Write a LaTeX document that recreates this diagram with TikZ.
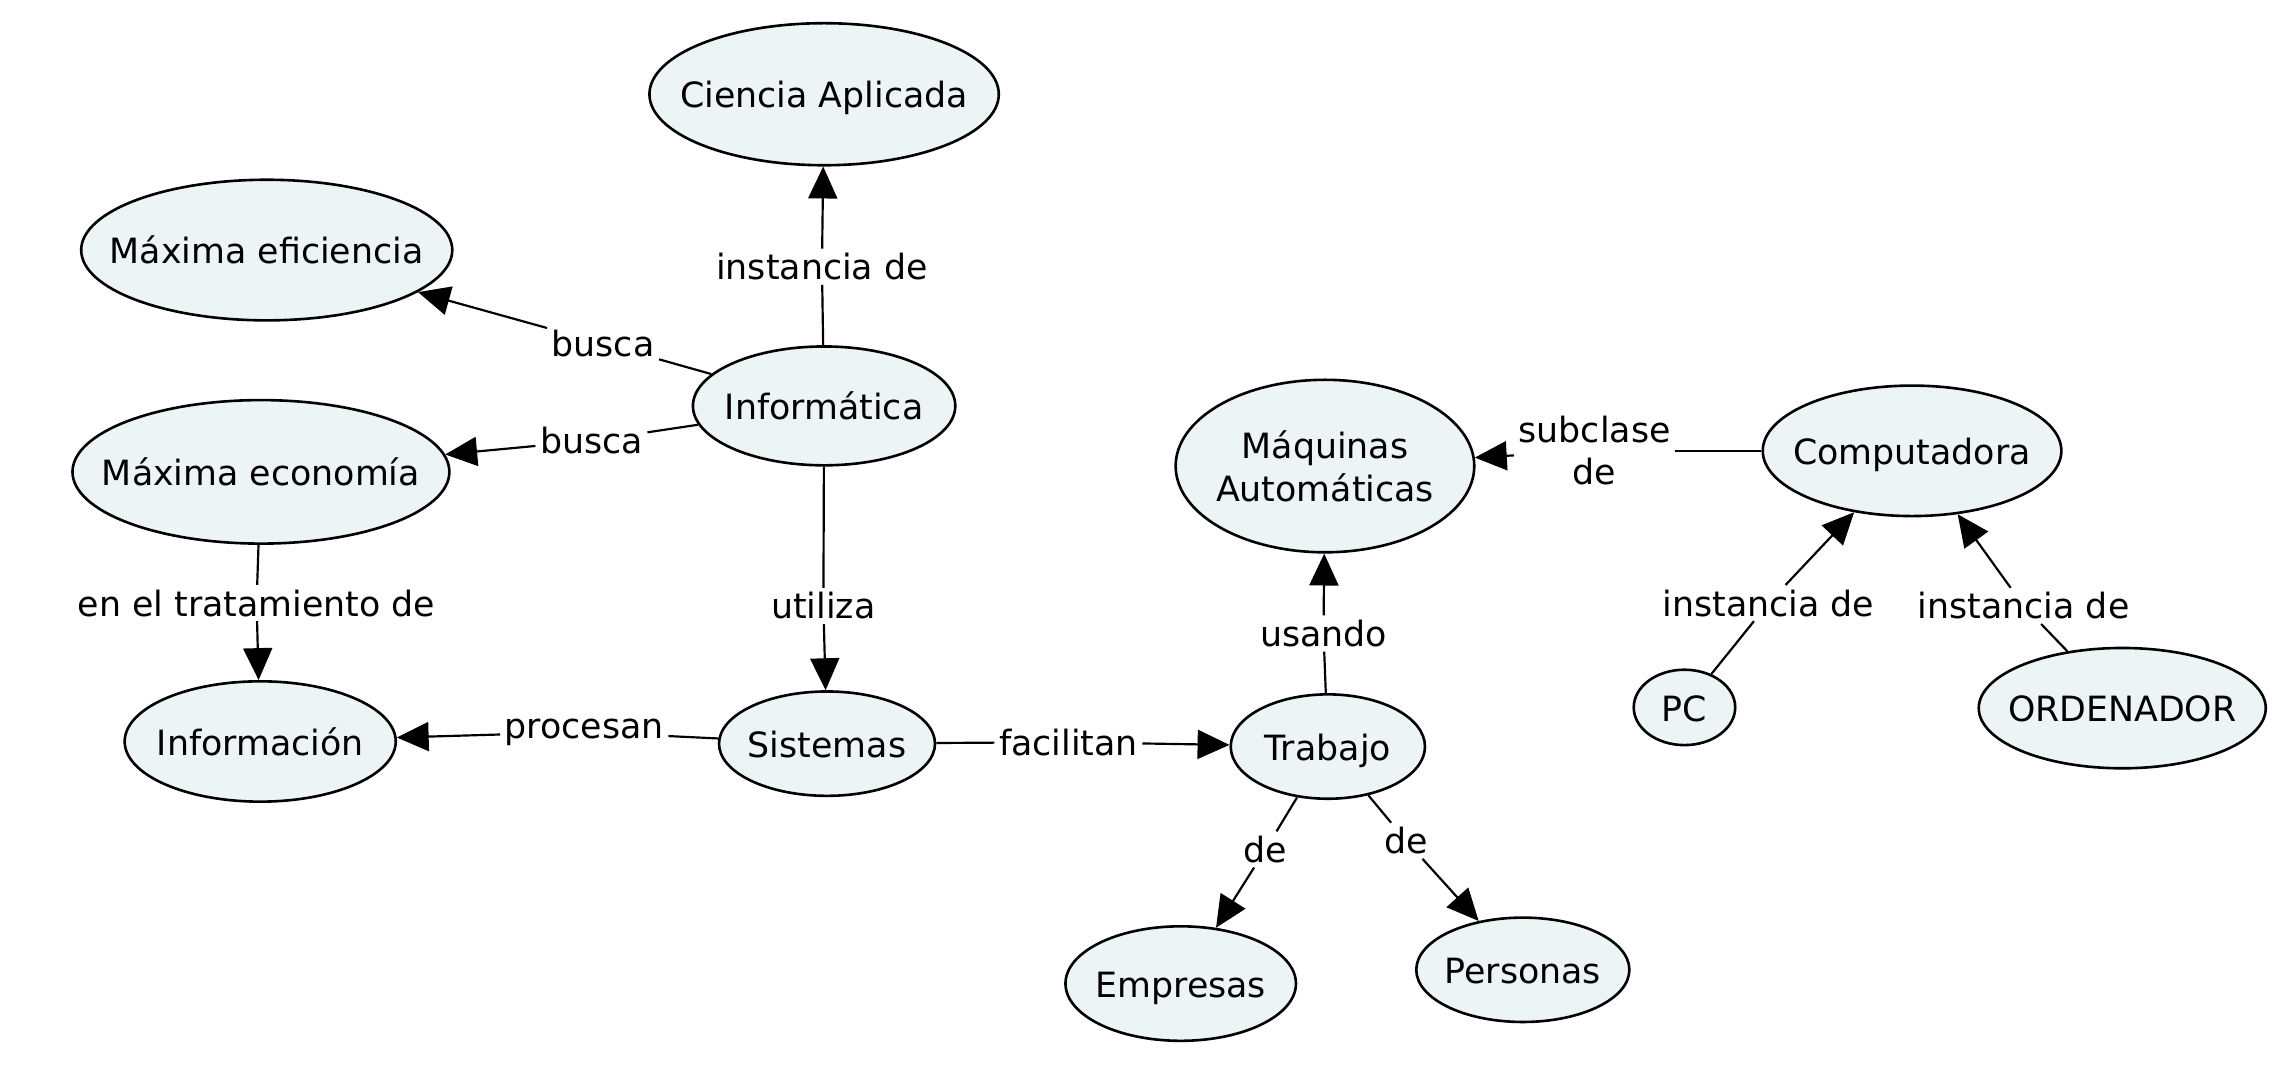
\documentclass[tikz,border=0pt]{standalone}
\usepackage{fontspec}
\setmainfont{DejaVu Sans}
\usetikzlibrary{arrows.meta,shapes.geometric}
\definecolor{cmapfill}{RGB}{236,244,246}
% concept text takes no room, so the ellipse size comes from the minimum sizes
\newcommand{\cmtext}[1]{\makebox[0pt]{\raisebox{-3.5pt}[\height][\depth]{\begin{tabular}{@{}c@{}}#1\end{tabular}}}}

\begin{document}
\begin{tikzpicture}[x=1pt,y=-1pt,
  concept/.style={draw, ellipse, fill=cmapfill, line width=1.8pt, inner sep=0pt,
    font=\fontsize{24}{30}\selectfont},
  linkword/.style={fill=white, inner sep=3pt, font=\fontsize{24}{29}\selectfont, align=center},
  linkline/.style={line width=1.5pt},
  linkarrow/.style={line width=1.5pt, -{Triangle[length=22pt,width=20pt]}}]

  \path[use as bounding box, fill=white] (0,0) rectangle (1568,751);

  %% concepts
  \node[concept, minimum width=241, minimum height=98] (ciencia) at (568.5,65) {\cmtext{Ciencia Aplicada}};
  \node[concept, minimum width=256, minimum height=97] (eficiencia) at (184,172.5) {\cmtext{Máxima eficiencia}};
  \node[concept, minimum width=181, minimum height=82] (informatica) at (568.5,280) {\cmtext{Informática}};
  \node[concept, minimum width=260, minimum height=99] (economia) at (180,325.5) {\cmtext{Máxima economía}};
  \node[concept, minimum width=187, minimum height=83] (informacion) at (179.5,511.5) {\cmtext{Información}};
  \node[concept, minimum width=149, minimum height=72] (sistemas) at (570.5,513) {\cmtext{Sistemas}};
  \node[concept, minimum width=134, minimum height=72] (trabajo) at (916,515) {\cmtext{Trabajo}};
  \node[concept, minimum width=206, minimum height=119] (maquinas) at (914,321.5) {\cmtext{Máquinas\\Automáticas}};
  \node[concept, minimum width=206, minimum height=90] (computadora) at (1319,311) {\cmtext{Computadora}};
  \node[concept, minimum width=70, minimum height=52] (pc) at (1162,488) {\cmtext{PC}};
  \node[concept, minimum width=198, minimum height=83] (ordenador) at (1464,488.5) {\cmtext{ORDENADOR}};
  \node[concept, minimum width=159, minimum height=79] (empresas) at (814.5,678.5) {\cmtext{Empresas}};
  \node[concept, minimum width=147, minimum height=72] (personas) at (1050.5,669) {\cmtext{Personas}};

  %% linking words
  \node[linkword] (l-instancia) at (567,184) {instancia de};
  \node[linkword] (l-busca1) at (416,237) {busca};
  \node[linkword] (l-busca2) at (408,304) {busca};
  \node[linkword] (l-tratamiento) at (177,416) {en el tratamiento de};
  \node[linkword] (l-utiliza) at (568,418) {utiliza};
  \node[linkword] (l-procesan) at (403,505) {procesan};
  \node[linkword] (l-facilitan) at (737,512) {facilitan};
  \node[linkword] (l-usando) at (913,437) {usando};
  \node[linkword] (l-subclase) at (1100,311) {subclase\\de};
  \node[linkword] (l-inst-pc) at (1220,416) {instancia de};
  \node[linkword] (l-inst-ord) at (1396,418) {instancia de};
  \node[linkword] (l-de1) at (873,586) {de};
  \node[linkword] (l-de2) at (970,580) {de};

  %% connectors
  \draw[linkline] (informatica) -- (l-instancia);
  \draw[linkarrow] (l-instancia) -- (ciencia);

  \draw[linkline] (informatica) -- (l-busca1);
  \draw[linkarrow] (l-busca1) -- (eficiencia);

  \draw[linkline] (informatica) -- (l-busca2);
  \draw[linkarrow] (l-busca2) -- (economia);

  \draw[linkline] (economia) -- (l-tratamiento);
  \draw[linkarrow] (l-tratamiento) -- (informacion);

  \draw[linkline] (informatica) -- (l-utiliza);
  \draw[linkarrow] (l-utiliza) -- (sistemas);

  \draw[linkline] (sistemas) -- (l-procesan);
  \draw[linkarrow] (l-procesan) -- (informacion);

  \draw[linkline] (sistemas) -- (l-facilitan);
  \draw[linkarrow] (l-facilitan) -- (trabajo);

  \draw[linkline] (trabajo) -- (l-usando);
  \draw[linkarrow] (l-usando) -- (maquinas);

  \draw[linkline] (computadora) -- (l-subclase);
  \draw[linkarrow] (l-subclase) -- (maquinas);

  \draw[linkline] (pc) -- (l-inst-pc);
  \draw[linkarrow] (l-inst-pc) -- (computadora);

  \draw[linkline] (ordenador) -- (l-inst-ord);
  \draw[linkarrow] (l-inst-ord) -- (computadora);

  \draw[linkline] (trabajo) -- (l-de1);
  \draw[linkarrow] (l-de1) -- (empresas);

  \draw[linkline] (trabajo) -- (l-de2);
  \draw[linkarrow] (l-de2) -- (personas);

\end{tikzpicture}
\end{document}
